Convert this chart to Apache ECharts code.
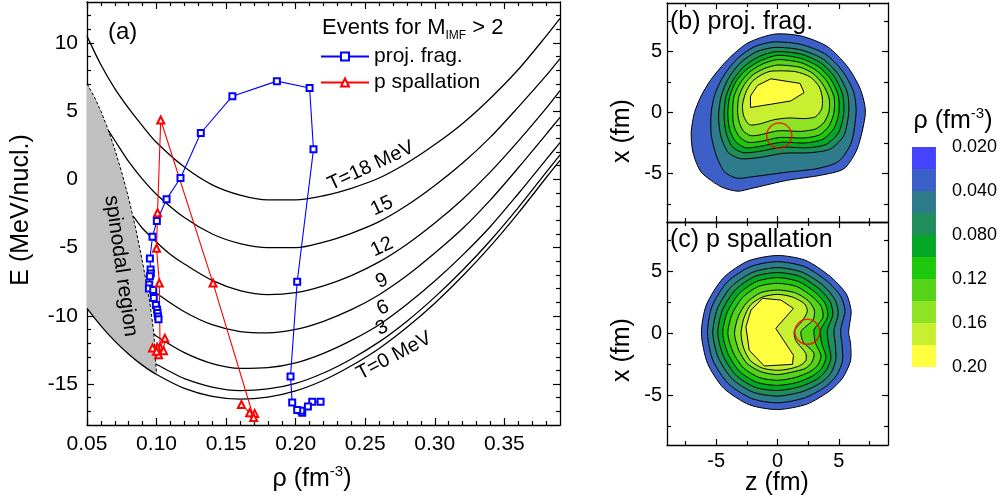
<!DOCTYPE html>
<html><head><meta charset="utf-8">
<script src="https://cdn.jsdelivr.net/npm/echarts@6/dist/echarts.min.js"></script>
<style>html,body{margin:0;padding:0;background:#fff}#c{width:1000px;height:499px}</style>
</head><body><div id="c"></div><script>
const FONT = '"Liberation Sans", Arial, Helvetica, sans-serif';

// ---------- Panel (a) data ----------
const rhoTicks = [0.05, 0.10, 0.15, 0.20, 0.25, 0.30, 0.35];
const rhoMinorTicks = [0.06,0.07,0.08,0.09,0.11,0.12,0.13,0.14,0.16,0.17,0.18,0.19,0.21,0.22,0.23,0.24,0.26,0.27,0.28,0.29,0.31,0.32,0.33,0.34,0.36,0.37,0.38];
const eTicks = [-15, -10, -5, 0, 5, 10];
const eMinorTicks = [-17,-16,-14,-13,-12,-11,-9,-8,-7,-6,-4,-3,-2,-1,1,2,3,4,6,7,8,9,11,12];

const isoT0 = [[0.05,-9.45],[0.06,-10.73],[0.07,-11.85],[0.08,-12.81],[0.09,-13.63],[0.10,-14.30],[0.12,-15.32],[0.14,-15.90],[0.16,-16.10],[0.18,-15.95],[0.20,-15.50],[0.22,-14.72],[0.24,-13.66],[0.26,-12.39],[0.28,-10.84],[0.30,-9.07],[0.32,-7.08],[0.34,-4.89],[0.36,-2.47],[0.38,0.12],[0.39,1.40]];
const isoT3 = [[0.0995,-13.53],[0.11,-14.10],[0.12,-14.60],[0.14,-15.22],[0.16,-15.48],[0.18,-15.36],[0.20,-14.95],[0.22,-14.19],[0.24,-13.16],[0.26,-11.91],[0.28,-10.39],[0.30,-8.63],[0.32,-6.66],[0.34,-4.48],[0.36,-2.07],[0.38,0.51],[0.39,1.79]];
const isoT6 = [[0.0981,-11.30],[0.10,-11.50],[0.12,-12.70],[0.14,-13.50],[0.16,-13.85],[0.18,-13.80],[0.20,-13.45],[0.22,-12.75],[0.24,-11.80],[0.26,-10.65],[0.28,-9.15],[0.30,-7.45],[0.32,-5.55],[0.34,-3.45],[0.36,-1.05],[0.38,1.45],[0.39,2.70]];
const isoT9 = [[0.0935,-7.83],[0.10,-8.35],[0.12,-9.70],[0.14,-10.65],[0.16,-11.15],[0.18,-11.25],[0.20,-11.00],[0.22,-10.40],[0.24,-9.55],[0.26,-8.45],[0.28,-7.05],[0.30,-5.40],[0.32,-3.60],[0.34,-1.50],[0.36,0.85],[0.38,3.30],[0.39,4.55]];
const isoT12 = [[0.0832,-2.70],[0.09,-3.60],[0.10,-4.60],[0.11,-5.50],[0.12,-6.20],[0.14,-7.40],[0.16,-8.15],[0.18,-8.45],[0.20,-8.30],[0.22,-7.80],[0.24,-7.05],[0.26,-6.05],[0.28,-4.75],[0.30,-3.20],[0.32,-1.45],[0.34,0.55],[0.36,2.80],[0.38,5.20],[0.39,6.50]];
const isoT15 = [[0.0655,3.55],[0.07,2.85],[0.08,1.30],[0.09,0.00],[0.10,-1.10],[0.12,-2.80],[0.14,-4.00],[0.16,-4.70],[0.18,-5.00],[0.20,-5.00],[0.22,-4.60],[0.24,-3.95],[0.26,-3.10],[0.28,-1.90],[0.30,-0.45],[0.32,1.20],[0.34,3.10],[0.36,5.30],[0.38,7.60],[0.39,8.85]];
const isoT18 = [[0.05,10.50],[0.06,8.40],[0.07,6.65],[0.08,5.20],[0.09,3.90],[0.10,2.70],[0.12,0.90],[0.14,-0.40],[0.16,-1.15],[0.18,-1.50],[0.20,-1.50],[0.22,-1.20],[0.24,-0.65],[0.26,0.10],[0.28,1.20],[0.30,2.55],[0.32,4.10],[0.34,5.95],[0.36,8.05],[0.38,10.50],[0.39,11.80]];
const spinodal = [[0.05,7.0],[0.055,6.1],[0.06,5.0],[0.065,3.7],[0.07,2.2],[0.075,0.5],[0.08,-1.4],[0.085,-3.6],[0.09,-6.1],[0.095,-8.9],[0.098,-11.2],[0.10,-14.3]];

const projFrag = [[0.2179,-16.3],[0.2119,-16.3],[0.2088,-16.65],[0.2047,-17.1],[0.2040,-16.95],[0.2011,-16.9],[0.1975,-16.35],[0.1963,-14.45],[0.2011,-7.5],[0.2128,2.2],[0.2100,6.7],[0.1865,7.2],[0.1545,6.1],[0.1318,3.4],[0.1172,0.1],[0.1072,-1.45],[0.1002,-3.05],[0.0971,-4.2],[0.0952,-5.8],[0.0957,-6.6],[0.0959,-6.9],[0.0952,-7.1],[0.0947,-7.7],[0.0945,-8.0],[0.0976,-8.1],[0.0980,-8.7],[0.0995,-9.2],[0.1004,-9.55],[0.1007,-9.8],[0.1011,-10.05],[0.1014,-10.25]];
const pSpall = [[0.1610,-16.5],[0.1669,-17.1],[0.1705,-17.15],[0.1698,-17.45],[0.1406,-7.6],[0.1030,4.35],[0.1007,-2.45],[0.1000,-5.05],[0.1020,-7.6],[0.1025,-12.3],[0.1060,-11.65],[0.1050,-12.55],[0.1015,-12.85],[0.1004,-12.3],[0.0971,-12.35],[0.1000,-12.6]];

// ---------- Panels (b), (c) data ----------
const posTicks = [-5, 0, 5];
const posMinorTicks = [-7.5, -2.5, 2.5, 7.5];

const pfL1 = [[-0.27,6.44],[1.89,6.3],[4.05,5.43],[5.68,3.8],[6.76,1.9],[7.16,0],[6.49,-2.99],[5.41,-4.62],[3.51,-5.16],[0.81,-5.57],[-2.16,-6.25],[-3.24,-6.47],[-4.59,-6.11],[-6.22,-4.89],[-6.89,-3.26],[-7.03,-1.63],[-6.76,0],[-6.22,1.36],[-5.41,2.72],[-4.05,4.35],[-2.43,5.71]];
const pfL2 = [[-0.3,5.8],[1.9,5.6],[3.9,4.8],[5.3,3.4],[6.2,1.7],[6.4,0],[6.0,-2.5],[5.0,-4.0],[3.3,-4.6],[0.8,-4.9],[-2.2,-5.3],[-3.3,-5.4],[-4.3,-4.9],[-5.0,-3.5],[-5.4,-1.8],[-5.4,0],[-5.1,1.5],[-4.4,3.0],[-3.3,4.4],[-1.9,5.4]];
const pfL3 = [[-0.2,5.35],[1.9,5.15],[3.7,4.4],[4.9,3.2],[5.7,1.6],[5.8,0],[5.4,-1.9],[4.3,-3.0],[2.7,-3.3],[0.5,-3.35],[-1.5,-3.7],[-3.0,-3.8],[-4.0,-3.3],[-4.6,-2.0],[-4.8,-0.4],[-4.6,1.3],[-4.0,2.8],[-3.0,4.1],[-1.7,5.0]];
const pfL4 = [[-0.1,5.0],[1.9,4.8],[3.5,4.1],[4.6,3.0],[5.3,1.5],[5.4,0],[5.0,-1.6],[4.0,-2.6],[2.5,-2.9],[0.4,-2.85],[-1.5,-3.2],[-2.8,-3.3],[-3.7,-2.8],[-4.2,-1.6],[-4.35,-0.2],[-4.2,1.3],[-3.6,2.7],[-2.7,3.8],[-1.5,4.6]];
const pfL5 = [[0,4.7],[1.9,4.45],[3.3,3.8],[4.3,2.8],[4.95,1.4],[5.0,0],[4.6,-1.3],[3.7,-2.2],[2.3,-2.5],[0.3,-2.45],[-1.5,-2.8],[-2.6,-2.9],[-3.4,-2.4],[-3.9,-1.4],[-4.05,-0.1],[-3.9,1.3],[-3.35,2.6],[-2.5,3.55],[-1.4,4.25]];
const pfL6 = [[0,4.35],[1.9,4.1],[3.1,3.5],[4.0,2.6],[4.6,1.3],[4.6,0],[4.2,-1.1],[3.4,-1.85],[2.1,-2.1],[0.2,-2.05],[-1.5,-2.4],[-2.4,-2.45],[-3.1,-2.0],[-3.55,-1.1],[-3.65,0],[-3.55,1.3],[-3.05,2.4],[-2.3,3.3],[-1.3,3.95]];
const pfL7 = [[0,3.9],[1.9,3.7],[2.9,3.2],[3.7,2.3],[4.2,1.2],[4.2,0.1],[3.8,-0.8],[3.1,-1.35],[1.9,-1.55],[0.1,-1.5],[-1.5,-1.85],[-2.2,-1.9],[-2.8,-1.5],[-3.15,-0.7],[-3.25,0.2],[-3.15,1.3],[-2.7,2.3],[-2.0,3.1],[-1.1,3.6]];
const pfL8 = [[-0.5,3.4],[1.5,3.35],[2.7,2.9],[3.4,2.1],[3.65,1.2],[3.6,0.3],[3.1,-0.35],[2.2,-0.5],[0.9,-0.45],[-0.3,-0.6],[-1.5,-0.95],[-2.3,-1.0],[-2.75,-0.3],[-2.85,0.6],[-2.6,1.6],[-2.1,2.5],[-1.3,3.1]];
const pfL9 = [[-2.2,1.36],[-2.2,0.41],[-0.54,0.68],[1.08,0.95],[2.16,1.63],[1.84,2.39],[-0.54,2.77],[-1.62,2.23]];

const psL1 = [[0,6.3],[2.3,5.9],[4.3,4.6],[5.6,3.2],[6.0,1.8],[5.85,0.6],[5.8,0],[5.95,-0.8],[5.95,-2.2],[5.3,-3.6],[4.3,-4.6],[2.4,-5.7],[0,-6.14],[-2.3,-5.75],[-4.4,-4.4],[-5.7,-2.4],[-6.2,0],[-5.8,2.3],[-4.4,4.5],[-2.4,5.85]];
const psL2 = [[0,5.8],[2.2,5.4],[4.0,4.25],[5.15,3.0],[5.5,1.8],[5.2,0.6],[5.14,0],[5.25,-0.8],[5.3,-2.2],[4.8,-3.4],[3.9,-4.3],[2.2,-5.2],[0,-5.6],[-2.1,-5.25],[-4.0,-4.05],[-5.25,-2.2],[-5.7,0],[-5.35,2.15],[-4.1,4.15],[-2.2,5.4]];
const psL3 = [[0,5.32],[2.0,4.95],[3.7,3.9],[4.7,2.7],[4.95,1.6],[4.65,0.5],[4.6,0],[4.7,-0.8],[4.75,-2.1],[4.35,-3.2],[3.5,-4.0],[2.0,-4.7],[0,-5.05],[-1.95,-4.75],[-3.65,-3.7],[-4.8,-2.0],[-5.27,0],[-4.9,2.0],[-3.75,3.8],[-2.0,4.95]];
const psL4 = [[0,4.92],[1.85,4.6],[3.4,3.6],[4.3,2.55],[4.5,1.5],[4.1,0.45],[4.05,0],[4.15,-0.8],[4.35,-2.0],[3.95,-3.0],[3.2,-3.7],[1.8,-4.3],[0,-4.6],[-1.8,-4.35],[-3.35,-3.4],[-4.4,-1.85],[-4.86,0],[-4.5,1.85],[-3.45,3.5],[-1.85,4.6]];
const psL5 = [[0,4.51],[1.7,4.2],[3.1,3.3],[3.9,2.4],[4.1,1.4],[3.55,0.4],[3.5,0],[3.6,-0.8],[3.95,-1.9],[3.6,-2.8],[2.9,-3.4],[1.6,-3.95],[0,-4.19],[-1.65,-3.95],[-3.05,-3.1],[-4.0,-1.7],[-4.46,0],[-4.1,1.7],[-3.15,3.2],[-1.7,4.2]];
const psL6 = [[0,4.05],[1.55,3.8],[2.8,3.0],[3.55,2.2],[3.7,1.3],[3.0,0.35],[2.97,0],[3.1,-0.8],[3.55,-1.8],[3.25,-2.6],[2.6,-3.1],[1.45,-3.55],[0,-3.78],[-1.5,-3.55],[-2.75,-2.8],[-3.6,-1.55],[-4.05,0],[-3.7,1.55],[-2.85,2.9],[-1.55,3.8]];
const psL7 = [[0,3.51],[1.4,3.3],[2.5,2.65],[3.0,1.9],[2.9,1.1],[2.0,0.3],[1.9,0],[2.1,-0.7],[2.97,-1.6],[2.75,-2.4],[2.2,-2.85],[1.25,-3.1],[0,-3.32],[-1.3,-3.1],[-2.45,-2.45],[-3.15,-1.35],[-3.5,0],[-3.2,1.35],[-2.5,2.5],[-1.35,3.3]];
const psL8 = [[0,3.16],[1.2,2.95],[2.2,2.4],[2.43,1.8],[2.0,1.0],[1.4,0.3],[1.35,0],[1.5,-0.6],[2.3,-1.6],[2.3,-2.2],[1.8,-2.6],[1.0,-2.85],[0,-2.97],[-1.2,-2.8],[-2.2,-2.2],[-2.75,-1.2],[-2.97,0],[-2.75,1.2],[-2.2,2.3],[-1.2,2.95]];
const psL9 = [[-1.22,2.84],[0.27,2.7],[1.3,2.03],[-0.14,0.41],[1.3,-1.76],[1.22,-2.49],[-1.08,-2.62],[-2.3,-1.35],[-2.57,0.54],[-2.16,1.89]];

const projFragContours = [pfL1, pfL2, pfL3, pfL4, pfL5, pfL6, pfL7, pfL8, pfL9];
const pSpallContours = [psL1, psL2, psL3, psL4, psL5, psL6, psL7, psL8, psL9];
const projFragCircle = [[0.14, -1.9]];
const pSpallCircle = [[2.43, 0.14]];

// colour scale, top (low density) to bottom (high density)
const colorbarColors = ['#4444ff','#3c5fc8','#2e7b8b','#1f8e5a','#05a826','#1ec80c','#54d318','#8ee325','#c9f030','#ffff40'];
const contourColors = colorbarColors.slice(1);
const colorbarTickPos = [10, 8, 6, 4, 2, 0];
const colorbarTickLabels = ['0.020', '0.040', '0.080', '0.12', '0.16', '0.20'];

// ---------- helpers ----------
function axisSet(kind, gi, min, max, major, minor, label, majLen, minLen) {
  const pos = kind === 'x' ? ['bottom', 'top'] : ['left', 'right'];
  const base = {type: 'value', gridIndex: gi, min: min, max: max, splitLine: {show: false}, scale: false};
  const line = {show: true, onZero: false, lineStyle: {color: '#000', width: 1.3}};
  const noLine = {show: false, onZero: false};
  const tk = (vals, len) => ({show: true, inside: true, length: len, customValues: vals, lineStyle: {color: '#000', width: 1.2}});
  return [
    Object.assign({}, base, {position: pos[0], axisLine: line, axisTick: tk(major, majLen),
      axisLabel: label ? Object.assign({customValues: major}, label) : {show: false}}),
    Object.assign({}, base, {position: pos[0], axisLine: noLine, axisTick: tk(minor, minLen), axisLabel: {show: false}}),
    Object.assign({}, base, {position: pos[1], axisLine: line, axisTick: tk(major, majLen), axisLabel: {show: false}}),
    Object.assign({}, base, {position: pos[1], axisLine: noLine, axisTick: tk(minor, minLen), axisLabel: {show: false}})
  ];
}
const lblA = {show: true, fontSize: 21, fontFamily: FONT, color: '#000'};

const xAxes = [].concat(
  axisSet('x', 0, 0.05, 0.39, rhoTicks, rhoMinorTicks, Object.assign({margin: 9, formatter: v => v.toFixed(2)}, lblA), 7, 4),
  axisSet('x', 1, -9, 9, posTicks, posMinorTicks, null, 6, 4),
  axisSet('x', 2, -9, 9, posTicks, posMinorTicks, Object.assign({margin: 6, formatter: v => String(v)}, lblA, {fontSize: 20}), 6, 4),
  [{type: 'value', gridIndex: 3, min: 0, max: 1, show: false}]
);
const yAxes = [].concat(
  axisSet('y', 0, -18, 13, eTicks, eMinorTicks, Object.assign({margin: 9, formatter: v => String(v)}, lblA), 7, 4),
  axisSet('y', 1, -9, 9, posTicks, posMinorTicks, Object.assign({margin: 5, formatter: v => String(v)}, lblA, {fontSize: 20}), 6, 4),
  axisSet('y', 2, -9, 9, posTicks, posMinorTicks, Object.assign({margin: 5, formatter: v => String(v)}, lblA, {fontSize: 20}), 6, 4),
  [{type: 'value', gridIndex: 3, min: 0, max: 10, position: 'right', splitLine: {show: false},
    axisLine: {show: false}, axisTick: {show: false},
    axisLabel: {show: true, customValues: colorbarTickPos, margin: 16, fontSize: 18, fontFamily: FONT, color: '#000',
      formatter: v => colorbarTickLabels[colorbarTickPos.indexOf(Math.round(v))] || ''}}]
);

function isoSeries(data) {
  return {type: 'line', xAxisIndex: 0, yAxisIndex: 0, data: data, smooth: 0.3, showSymbol: false, symbol: 'none',
    lineStyle: {color: '#000', width: 1.3}, silent: true, z: 3};
}
function contourSeries(levels, xi, yi) {
  return {type: 'custom', xAxisIndex: xi, yAxisIndex: yi, clip: true, silent: true, z: 2,
    data: levels.map(() => [0, 0]),
    renderItem: (params, api) => ({
      type: 'polygon',
      shape: {points: levels[params.dataIndex].map(p => api.coord(p)), smooth: params.dataIndex === 8 ? 0 : 0.25},
      style: {fill: contourColors[params.dataIndex], stroke: '#000', lineWidth: 1}
    })};
}
const spinodalPolygon = spinodal.concat(isoT0.filter(p => p[0] <= 0.10).reverse());

const series = [
  {type: 'custom', xAxisIndex: 0, yAxisIndex: 0, silent: true, z: 1, data: [[0, 0]],
    renderItem: (params, api) => ({type: 'polygon', shape: {points: spinodalPolygon.map(p => api.coord(p))},
      style: {fill: '#c0c0c0', stroke: 'none'}})},
  {type: 'line', xAxisIndex: 0, yAxisIndex: 0, data: spinodal, showSymbol: false, symbol: 'none', silent: true, z: 3,
    lineStyle: {color: '#000', width: 1, type: [3, 2]}},
  isoSeries(isoT0), isoSeries(isoT3), isoSeries(isoT6), isoSeries(isoT9), isoSeries(isoT12), isoSeries(isoT15), isoSeries(isoT18),
  {name: 'proj. frag.', type: 'line', xAxisIndex: 0, yAxisIndex: 0, data: projFrag, symbol: 'emptyRect', symbolSize: 6,
    showSymbol: true, color: '#0000ff', lineStyle: {color: '#0000ff', width: 1.1}, itemStyle: {color: '#0000ff', borderWidth: 1.2}, z: 5},
  {name: 'p spallation', type: 'line', xAxisIndex: 0, yAxisIndex: 0, data: pSpall, symbol: 'emptyTriangle', symbolSize: 7,
    showSymbol: true, color: '#ff0000', lineStyle: {color: '#ff0000', width: 1.1}, itemStyle: {color: '#ff0000', borderWidth: 1.2}, z: 5},
  contourSeries(projFragContours, 4, 4),
  contourSeries(pSpallContours, 8, 8),
  {type: 'scatter', xAxisIndex: 4, yAxisIndex: 4, data: projFragCircle, symbol: 'circle', symbolSize: 25, silent: true, z: 6,
    itemStyle: {color: 'rgba(0,0,0,0)', borderColor: '#ff0000', borderWidth: 1.5}},
  {type: 'scatter', xAxisIndex: 8, yAxisIndex: 8, data: pSpallCircle, symbol: 'circle', symbolSize: 25, silent: true, z: 6,
    itemStyle: {color: 'rgba(0,0,0,0)', borderColor: '#ff0000', borderWidth: 1.5}},
  {type: 'custom', xAxisIndex: 12, yAxisIndex: 12, silent: true, data: colorbarColors.map(() => [0, 0]),
    renderItem: (params, api) => {
      const i = params.dataIndex;
      const p1 = api.coord([0, 10 - i]);
      const p2 = api.coord([1, 9 - i]);
      return {type: 'rect', shape: {x: p1[0], y: p1[1], width: p2[0] - p1[0], height: p2[1] - p1[1]},
        style: {fill: colorbarColors[i], stroke: 'none'}};
    }}
];

function txt(x, y, text, size, opts) {
  return Object.assign({type: 'text', x: x, y: y, z: 100, silent: true,
    style: {text: text, font: size + 'px ' + FONT, fill: '#000', align: 'center', verticalAlign: 'middle'}}, opts || {});
}
function supText(x, y, base, sup, after, size, supSize, opts) {
  return Object.assign({type: 'text', x: x, y: y, z: 100, silent: true,
    style: {text: '{a|' + base + '}{b|' + sup + '}{a|' + after + '}', align: 'center', verticalAlign: 'middle',
      rich: {a: {fontSize: size, fontFamily: FONT, fill: '#000', color: '#000', lineHeight: size + 4},
             b: {fontSize: supSize, fontFamily: FONT, fill: '#000', color: '#000', lineHeight: supSize, verticalAlign: 'top'}}}}, opts || {});
}
const deg = Math.PI / 180;
const graphics = [
  txt(108, 32, '(a)', 24, {style: {text: '(a)', font: '24px ' + FONT, fill: '#000', align: 'left', verticalAlign: 'middle'}}),
  {type: 'text', x: 322, y: 28, z: 100, silent: true,
    style: {text: '{a|Events for M}{s|IMF}{a| > 2}', align: 'left', verticalAlign: 'middle',
      rich: {a: {fontSize: 22, fontFamily: FONT, fill: '#000', color: '#000', lineHeight: 28},
             s: {fontSize: 12, fontFamily: FONT, fill: '#000', color: '#000', lineHeight: 12, verticalAlign: 'bottom'}}}},
  txt(371, 166, 'T=18 MeV', 20, {rotation: 25 * deg}),
  txt(382, 206, '15', 20, {rotation: 25 * deg}),
  txt(382, 247, '12', 20, {rotation: 25 * deg}),
  txt(382, 281, '9', 20, {rotation: 25 * deg}),
  txt(383, 308, '6', 20, {rotation: 25 * deg}),
  txt(382, 328, '3', 20, {rotation: 25 * deg}),
  txt(394, 356, 'T=0 MeV', 20, {rotation: 28 * deg}),
  txt(121, 266, 'spinodal region', 21, {rotation: -82 * deg}),
  txt(21, 210, 'E (MeV/nucl.)', 25, {rotation: 90 * deg}),
  supText(312, 479, 'ρ (fm', '-3', ')', 25, 15),
  txt(670, 22, '(b) proj. frag.', 25, {style: {text: '(b) proj. frag.', font: '25px ' + FONT, fill: '#000', align: 'left', verticalAlign: 'middle'}}),
  txt(670, 240, '(c) p spallation', 25, {style: {text: '(c) p spallation', font: '25px ' + FONT, fill: '#000', align: 'left', verticalAlign: 'middle'}}),
  txt(622, 131, 'x (fm)', 25, {rotation: 90 * deg}),
  txt(622, 350, 'x (fm)', 25, {rotation: 90 * deg}),
  txt(777, 483, 'z (fm)', 25),
  supText(953, 121, 'ρ (fm', '-3', ')', 25, 15)
];

const option = {
  animation: false,
  backgroundColor: '#fff',
  grid: [
    {left: 87, top: 2, width: 473, height: 423},
    {left: 667, top: 3, width: 221, height: 219},
    {left: 667, top: 222, width: 221, height: 223},
    {left: 912, top: 147, width: 27, height: 220}
  ],
  xAxis: xAxes,
  yAxis: yAxes,
  legend: {data: ['proj. frag.', 'p spallation'], orient: 'vertical', left: 320, top: 46, padding: 0,
    itemWidth: 48, itemHeight: 10, itemGap: 5, textStyle: {fontSize: 21, fontFamily: FONT, color: '#000'}},
  series: series,
  graphic: graphics
};
const chart = echarts.init(document.getElementById('c'), null, {renderer: 'canvas'});
chart.setOption(option);
</script></body></html>
